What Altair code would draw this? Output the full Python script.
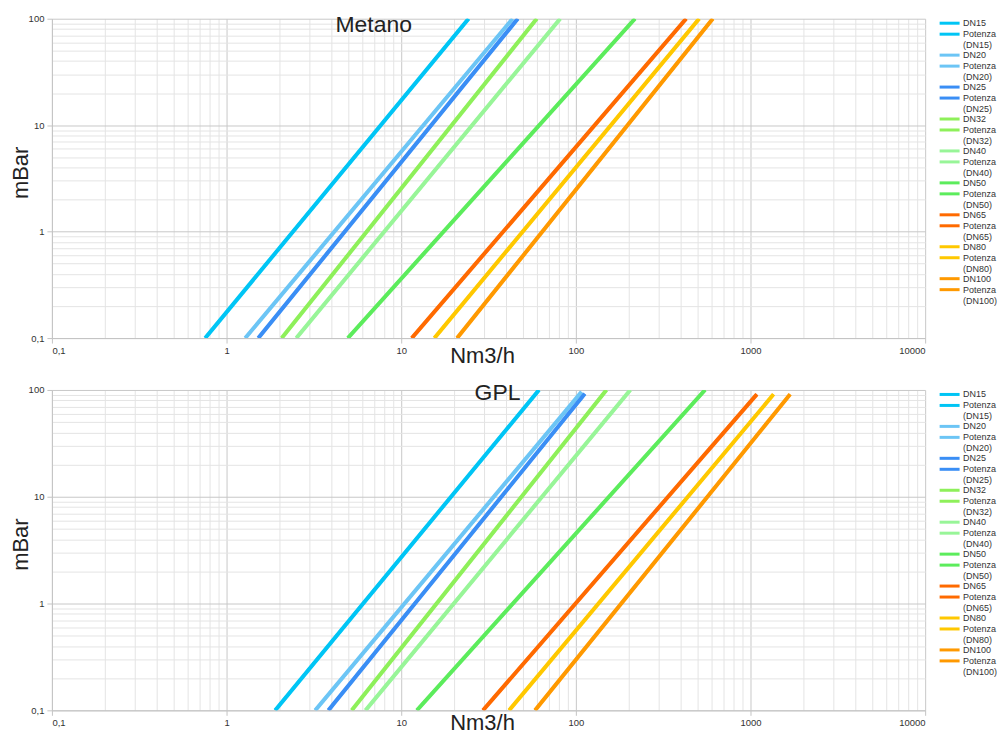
import altair as alt
import pandas as pd

# ---- data ----
DN = ["DN15", "DN20", "DN25", "DN32", "DN40", "DN50", "DN65", "DN80", "DN100"]
COLORS = ["#00c5f5", "#6cc5f5", "#3a8ef5", "#8ef05a", "#98f598",
          "#5cec5c", "#ff6a00", "#ffc800", "#ff9900"]

# Metano: flow (Nm3/h) at the start (0,1 mbar) and the end of each line
MET_Q_START = [0.755, 1.28, 1.52, 2.07, 2.51, 4.95, 11.5, 15.5, 20.9]
MET_P_START = [0.1, 0.1, 0.1, 0.1, 0.1, 0.1, 0.1, 0.1, 0.1]
MET_Q_END = [24.3, 43.4, 46.5, 59.7, 81.3, 218, 428, 508, 608]
MET_P_END = [100, 100, 100, 100, 100, 100, 100, 100, 100]

# GPL
GPL_Q_START = [1.90, 3.22, 3.83, 5.21, 6.25, 12.3, 29.4, 41.5, 58.4]
GPL_P_START = [0.1, 0.1, 0.1, 0.1, 0.1, 0.1, 0.1, 0.1, 0.1]
GPL_Q_END = [61.5, 107.8, 112.5, 149.6, 205, 549, 1087, 1355, 1686]
GPL_P_END = [100, 96, 92, 100, 100, 100, 91, 91, 91]

X_TICKS = [0.1, 1, 10, 100, 1000, 10000]
Y_TICKS = [0.1, 1, 10, 100]

SERIES = []
RANGE = []
for d, c in zip(DN, COLORS):
    SERIES += [d, f"Potenza ({d})"]
    RANGE += [c, c]


def build(qs, ps, qe, pe):
    rows = []
    for i, d in enumerate(DN):
        for s in (d, f"Potenza ({d})"):
            rows.append({"serie": s, "k": 0, "q": qs[i], "p": ps[i]})
            rows.append({"serie": s, "k": 1, "q": qe[i], "p": pe[i]})
    return pd.DataFrame(rows)


def grid_values(lo_exp, hi_exp):
    vals = []
    for e in range(lo_exp, hi_exp):
        for m in range(1, 10):
            vals.append(round(m * 10.0 ** e, 6))
    vals.append(round(10.0 ** hi_exp, 6))
    return vals


XV = grid_values(-1, 4)
YV = grid_values(-1, 2)

FONT = "Liberation Sans"
XSCALE = alt.Scale(type="log", domain=[0.1, 10000], nice=False)
YSCALE = alt.Scale(type="log", domain=[0.1, 100], nice=False)


def major_test(ticks):
    return "indexof([" + ",".join(str(t) for t in ticks) + "], datum.value) >= 0"


def label_expr(ticks):
    return (major_test(ticks) +
            " ? replace(format(datum.value, '~g'), '.', ',') : ''")


def panel(df, title, title_x, title_y, xtitle_y, height):
    xaxis = alt.Axis(
        values=XV, labelExpr=label_expr(X_TICKS), labelOverlap=False,
        labelFont=FONT, labelFontSize=9.5, labelColor="#333333", labelPadding=2,
        tickSize=5,
        tickColor={"condition": {"test": major_test(X_TICKS), "value": "#c4c4c4"}, "value": "transparent"},
        gridColor={"condition": {"test": major_test(X_TICKS), "value": "#c8c8c8"}, "value": "#e4e4e4"},
        domainColor="#c4c4c4",
        title="Nm3/h", titleFont=FONT, titleFontSize=22, titleFontWeight="normal",
        titleColor="#222222", titleX=431, titleY=xtitle_y,
        titleBaseline="alphabetic", titleAlign="center",
    )
    yaxis = alt.Axis(
        values=YV, labelExpr=label_expr(Y_TICKS), labelOverlap=False,
        labelFont=FONT, labelFontSize=9.5, labelColor="#333333", labelPadding=3,
        tickSize=5,
        tickColor={"condition": {"test": major_test(Y_TICKS), "value": "#c4c4c4"}, "value": "transparent"},
        gridColor={"condition": {"test": major_test(Y_TICKS), "value": "#c8c8c8"}, "value": "#e4e4e4"},
        domainColor="#c4c4c4",
        title="mBar", titleFont=FONT, titleFontSize=22, titleFontWeight="normal",
        titleColor="#222222", titleX=-24, titleY=height / 2 - 6,
        titleBaseline="alphabetic", titleAlign="center", titleAngle=270,
    )
    # top axis used only to carry the panel title inside the plot area
    title_axis = alt.Axis(
        orient="top", labels=False, ticks=False, domain=False, grid=False,
        title=title, titleFont=FONT, titleFontSize=23, titleFontWeight="normal",
        titleColor="#222222", titleX=title_x, titleY=title_y,
        titleBaseline="alphabetic", titleAlign="center",
    )
    lines = alt.Chart(df).mark_line(strokeCap="butt", clip=True).encode(
        x=alt.X("q:Q", scale=XSCALE, axis=xaxis),
        y=alt.Y("p:Q", scale=YSCALE, axis=yaxis),
        color=alt.Color(
            "serie:N", sort=SERIES,
            scale=alt.Scale(domain=SERIES, range=RANGE),
            legend=alt.Legend(
                title=None, orient="right", offset=20, padding=0,
                labelFont=FONT, labelFontSize=9, labelColor="#333333",
                labelExpr="split(datum.label, ' ')",
                symbolType="M-4,0H4", symbolSize=25, symbolStrokeWidth=3,
                labelOffset=9, rowPadding=-2, labelLimit=80,
            ),
        ),
        order=alt.Order("k:O"),
        strokeWidth=alt.condition("indexof(datum.serie, 'Potenza') == 0", alt.value(4), alt.value(3)),
    )
    title_layer = alt.Chart(df).mark_point(opacity=0).encode(
        x=alt.X("q:Q", scale=XSCALE, axis=title_axis),
        y=alt.Y("p:Q", scale=YSCALE, axis=yaxis),
    )
    return alt.layer(lines, title_layer).resolve_axis(x="independent").properties(
        width=875, height=height,
    )


top = panel(build(MET_Q_START, MET_P_START, MET_Q_END, MET_P_END),
            "Metano", 322, 13, 24, 320)
bottom = panel(build(GPL_Q_START, GPL_P_START, GPL_Q_END, GPL_P_END),
               "GPL", 446, 10, 19, 321)

chart = alt.vconcat(top, bottom, spacing=16).properties(
    padding={"left": 2, "top": 5, "right": 0, "bottom": 0}
).configure_view(stroke=None).resolve_scale(color="independent")

chart.save("out.html", embed_options={"renderer": "svg", "actions": False})
